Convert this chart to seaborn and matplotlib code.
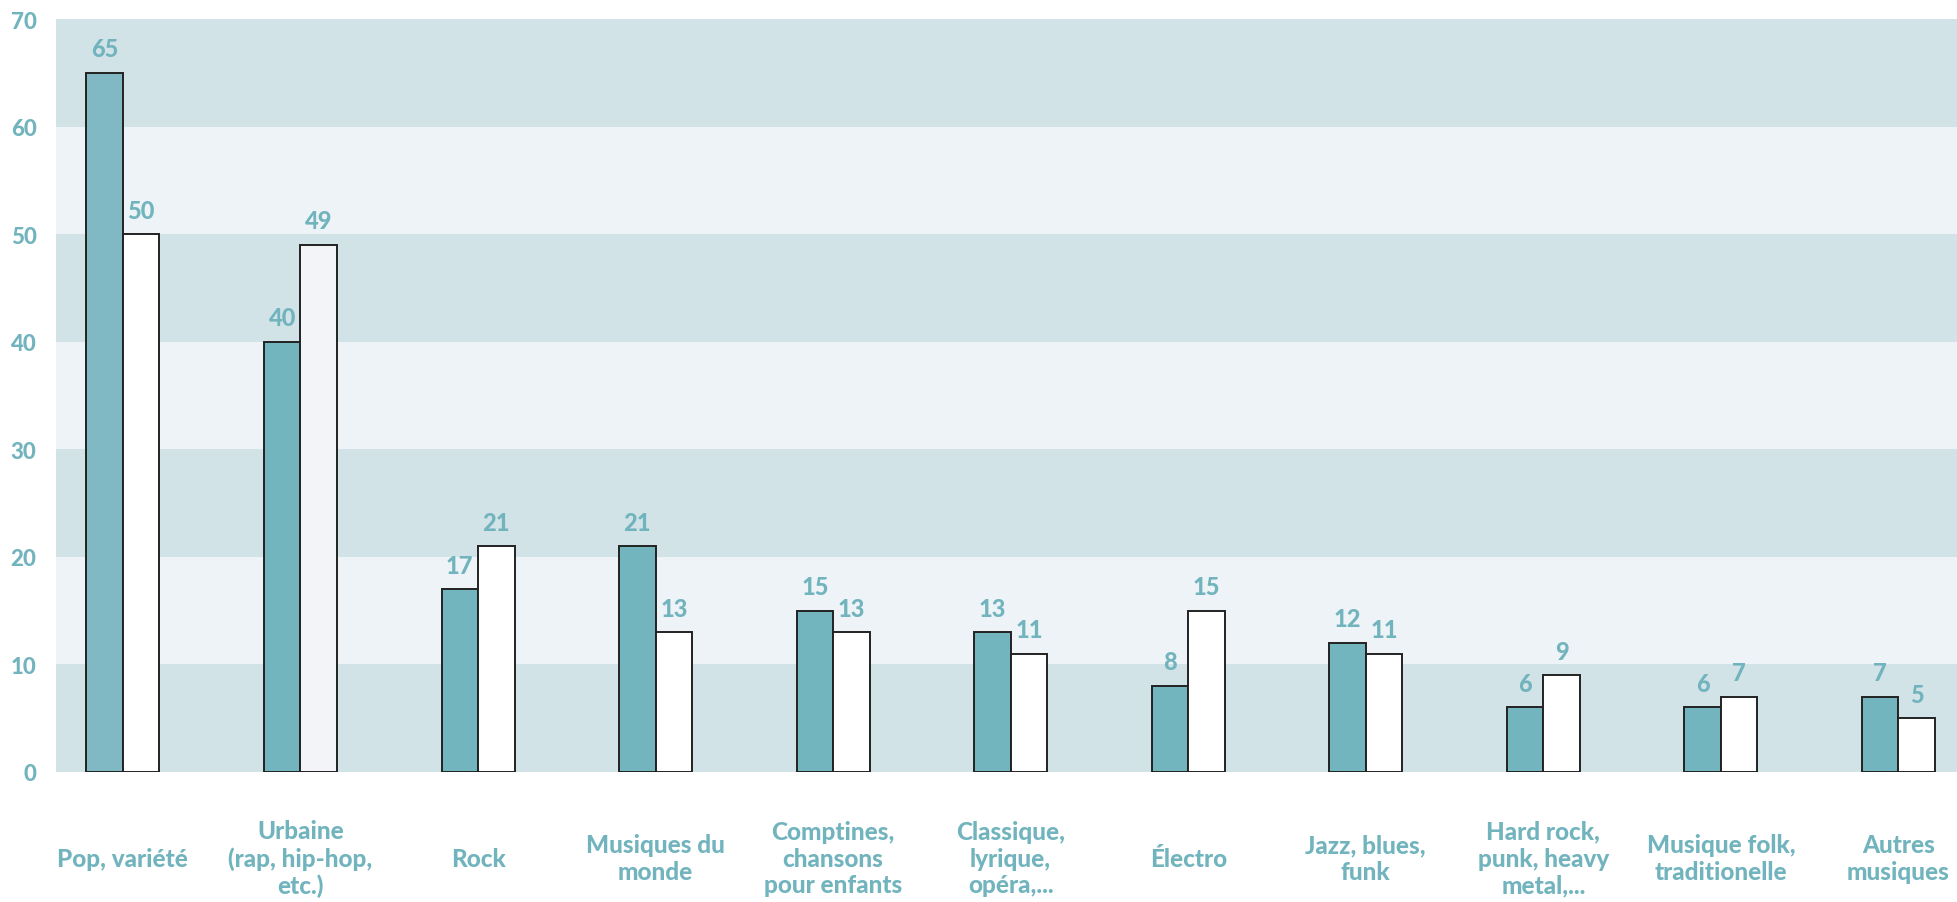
import matplotlib
matplotlib.use("Agg")
import matplotlib.pyplot as plt
from matplotlib import font_manager
import seaborn as sns
import pandas as pd

categories = [
    "Pop, variété",
    "Urbaine\n(rap, hip-hop,\netc.)",
    "Rock",
    "Musiques du\nmonde",
    "Comptines,\nchansons\npour enfants",
    "Classique,\nlyrique,\nopéra,...",
    "Électro",
    "Jazz, blues,\nfunk",
    "Hard rock,\npunk, heavy\nmetal,...",
    "Musique folk,\ntraditionelle",
    "Autres\nmusiques",
]
series_names = ["Série 1", "Série 2"]
values_1 = [65, 40, 17, 21, 15, 13, 8, 12, 6, 6, 7]
values_2 = [50, 49, 21, 13, 13, 11, 15, 11, 9, 7, 5]
y_ticks = [0, 10, 20, 30, 40, 50, 60, 70]

df = pd.DataFrame({
    "cat": categories * 2,
    "serie": [series_names[0]] * len(categories) + [series_names[1]] * len(categories),
    "val": values_1 + values_2,
})

TEAL = "#73b5bf"
TEXT = "#72b4be"
BAND_DARK = "#d2e3e7"
BAND_LIGHT = "#edf3f6"

# find a heavy face file (Lato Heavy > Lato ExtraBold > Lato Bold > others)
bold_path = None
lato = [f for f in font_manager.fontManager.ttflist
        if f.name.startswith("Lato") and "italic" not in f.fname.lower()]
for key in ["heavy", "extrabold", "bold"]:
    hits = [f for f in lato if key in f.fname.lower().split("/")[-1]
            and not (key == "bold" and ("semi" in f.fname.lower() or "extra" in f.fname.lower()))]
    if hits:
        bold_path = hits[0].fname
        break
if bold_path is None:
    for fam in ["Roboto", "Open Sans", "Noto Sans"]:
        hits = [f for f in font_manager.fontManager.ttflist
                if f.name == fam and "bold" in f.fname.lower().split("/")[-1]
                and "italic" not in f.fname.lower() and "semi" not in f.fname.lower()
                and "extra" not in f.fname.lower() and "condensed" not in f.fname.lower()]
        if hits:
            bold_path = hits[0].fname
            break

sns.set_theme(style="white")
plt.rcParams["font.family"] = ["Lato", "DejaVu Sans"]


def fp(size):
    if bold_path:
        return font_manager.FontProperties(fname=bold_path, size=size)
    return font_manager.FontProperties(family="DejaVu Sans", weight="bold", size=size)


fig = plt.figure(figsize=(19.57, 9.03), dpi=100)
ax = fig.add_axes([56 / 1957, 130 / 903, 1 - 56 / 1957, (773 - 20) / 903])

# alternating horizontal bands
for i in range(len(y_ticks) - 1):
    ax.axhspan(y_ticks[i], y_ticks[i + 1],
               color=BAND_DARK if i % 2 == 0 else BAND_LIGHT, lw=0, zorder=0)

sns.barplot(data=df, x="cat", y="val", hue="serie", order=categories,
            hue_order=series_names, palette=[TEAL, "#ffffff"], saturation=1,
            width=0.411, gap=0, edgecolor="#222222", linewidth=1.4,
            legend=False, ax=ax, zorder=2, errorbar=None)

# slight shade variations seen in reference
ax.containers[0][0].set_facecolor("#80b9c4")
ax.containers[1][1].set_facecolor("#f2f4f7")

for cont in ax.containers:
    texts = ax.bar_label(cont, labels=[f"{int(v)}" for v in cont.datavalues],
                         padding=9, color=TEXT)
    for t in texts:
        t.set_fontproperties(fp(17))

ax.set_ylim(0, 70)
ax.set_xlim(-0.377, 10.33)
ax.set_yticks(y_ticks)
ax.set_yticklabels([str(t) for t in y_ticks])
ax.set_xlabel("")
ax.set_ylabel("")
for s in ax.spines.values():
    s.set_visible(False)
ax.tick_params(axis="both", length=0)
ax.tick_params(axis="y", pad=14, labelcolor=TEXT)
ax.tick_params(axis="x", pad=62, labelcolor=TEXT)
for lbl in ax.get_yticklabels():
    lbl.set_fontproperties(fp(16))
for lbl in ax.get_xticklabels():
    lbl.set_fontproperties(fp(17.5))
    lbl.set_verticalalignment("center")
    lbl.set_multialignment("center")
    lbl.set_linespacing(1.2)
ax.grid(False)

fig.savefig("out.png", dpi=100, facecolor="white")
